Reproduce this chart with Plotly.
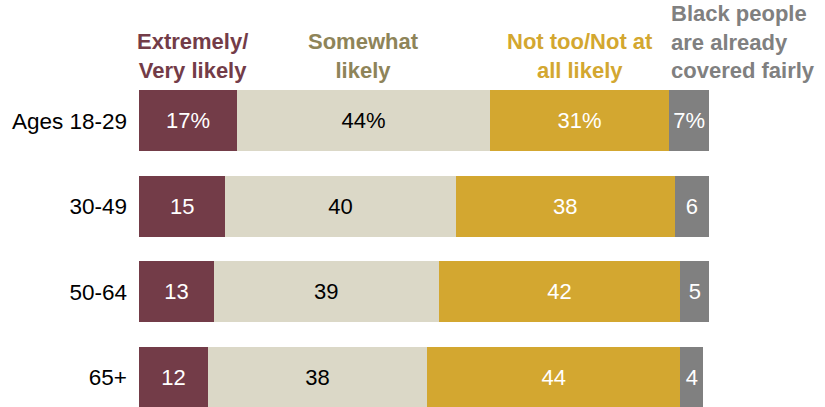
import plotly.graph_objects as go

# Survey responses by age group (percent)
age_groups = ["Ages 18-29", "30-49", "50-64", "65+"]
extremely_very = [17, 15, 13, 12]
somewhat = [44, 40, 39, 38]
not_too_not_at_all = [31, 38, 42, 44]
already_fair = [7, 6, 5, 4]

series_names = [
    "Extremely/<br>Very likely",
    "Somewhat<br>likely",
    "Not too/Not at<br>all likely",
    "Black people<br>are already<br>covered fairly",
]
series_values = [extremely_very, somewhat, not_too_not_at_all, already_fair]
bar_colors = ["#733C48", "#DBD8C7", "#D3A730", "#808080"]
header_colors = ["#733C48", "#8E8459", "#D3A730", "#808080"]
label_colors = ["white", "black", "white", "white"]

FONT = "Liberation Sans, Arial, sans-serif"

fig = go.Figure()
for name, vals, color, tcolor in zip(series_names, series_values, bar_colors, label_colors):
    labels = [f"{v}%" if i == 0 else f"{v}" for i, v in enumerate(vals)]
    fig.add_trace(go.Bar(
        y=age_groups,
        x=vals,
        orientation="h",
        name=name,
        marker=dict(color=color, line=dict(width=0)),
        width=0.71,
        text=labels,
        textposition="inside",
        insidetextanchor="middle",
        textangle=0,
        constraintext="none",
        textfont=dict(family=FONT, size=22, color=tcolor),
        hoverinfo="skip",
    ))

# Column headers sit above the first row's segments
starts = [0]
for vals in series_values[:-1]:
    starts.append(starts[-1] + vals[0])
for i, (name, hcolor) in enumerate(zip(series_names, header_colors)):
    first = series_values[i][0]
    if i == len(series_names) - 1:
        x, xanchor, align, xshift = starts[i], "left", "left", 0
    else:
        x, xanchor, align, xshift = starts[i] + first / 2, "center", "center", (5 if i == 0 else 0)
    fig.add_annotation(
        x=x, y=-0.5, xref="x", yref="y",
        text=f"<b>{name}</b>",
        showarrow=False,
        xanchor=xanchor, yanchor="bottom", align=align,
        xshift=xshift, yshift=-7,
        font=dict(family=FONT, size=22, color=hcolor),
    )

fig.update_layout(
    barmode="stack",
    width=825,
    height=407,
    margin=dict(l=139, r=110, t=78, b=0),
    plot_bgcolor="white",
    paper_bgcolor="white",
    showlegend=False,
    xaxis=dict(range=[0, 100], visible=False, fixedrange=True),
    yaxis=dict(
        range=[3.35, -0.5],
        showgrid=False,
        zeroline=False,
        showline=False,
        ticks="",
        ticklabelstandoff=11,
        tickfont=dict(family=FONT, size=22.5, color="black"),
        fixedrange=True,
    ),
)

fig.write_html("out.html")
